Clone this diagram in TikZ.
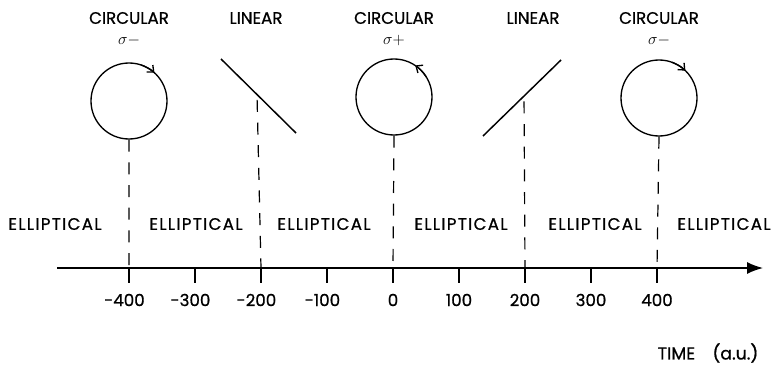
\documentclass[tikz,border=0pt]{standalone}
\usepackage{fontspec}
\setmainfont{Poppins}[FakeBold=0.8]
\usetikzlibrary{arrows.meta,positioning,calc}

\begin{document}
\begin{tikzpicture}[x=.75pt,y=.75pt,>=Latex,
  lbl/.style={font=\fontsize{12.5}{14}\selectfont},
  pol/.style={circle,draw,line width=1pt,minimum size=57pt,inner sep=0pt},
  guide/.style={line width=.9pt,dash pattern=on 9pt off 8pt},
  spin/.style={line width=1pt,-{Straight Barb[length=4pt,width=7pt]}}]
\useasboundingbox (0,0) rectangle (778,372);
% time axis
\coordinate (ax0) at (57,104);
\coordinate (ax1) at (763,104);
\draw[line width=1.1pt,-{Latex[length=12pt,width=9pt]}] (ax0) -- (ax1);
\foreach \v [count=\i] in {-400,-300,...,400}{
  \pgfmathtruncatemacro\a{abs(\v)}
  \coordinate (t\i) at (393+0.66*\v,104);
  \draw[line width=.9pt] (t\i) -- ++(0,-15);
  \node[lbl] (n\i) at ($(t\i)+(0,-32)$) {\ifnum\v<0 \llap{-}\fi\a};
}
\node[lbl,font=\fontsize{13}{15}\selectfont] (time) at (708,19) {TIME\quad(a.u.)};
% polarisation states
\node[pol] (cA) at (129,271) {};
\node[pol] (cB) at (394,275) {};
\node[pol] (cC) at (659,274) {};
\draw[spin] ($(cA)+(72:28.5pt)$) arc (72:48:28.5pt);
\draw[spin] ($(cB)+(32:28.5pt)$) arc (32:56:28.5pt);
\draw[spin] ($(cC)+(70:28.5pt)$) arc (70:46:28.5pt);
\coordinate (lA1) at (221,313);
\coordinate (lA2) at (296,239);
\coordinate (lB1) at (483,236);
\coordinate (lB2) at (561,312);
\draw[line width=1.1pt] (lA1) -- coordinate[pos=.48] (mA) (lA2);
\draw[line width=1.1pt] (lB1) -- coordinate[pos=.526] (mB) (lB2);
\node[lbl] (hA) at (129,354) {CIRCULAR};
\node[font=\fontsize{12}{14}\selectfont] (sA) at (129,331) {$\mathrm{\sigma}{-}$};
\node[lbl] (hB) at (256,354) {LINEAR};
\node[lbl] (hC) at (394,354) {CIRCULAR};
\node[font=\fontsize{12}{14}\selectfont] (sC) at (394,331) {$\mathrm{\sigma}{+}$};
\node[lbl] (hD) at (533,354) {LINEAR};
\node[lbl] (hE) at (659,354) {CIRCULAR};
\node[font=\fontsize{12}{14}\selectfont] (sE) at (659,331) {$\mathrm{\sigma}{-}$};
% dashed guides down to the axis
\draw[guide] (cA.south) -- (t1);
\draw[guide,shorten <=4pt] (mA) -- (t3);
\draw[guide] (cB.south) -- (t5);
\draw[guide,shorten <=4pt] (mB) -- (t7);
\draw[guide] (cC.south) -- (t9);
\foreach \x [count=\j] in {55,196,324,461,595,724}
  \node[lbl] (e\j) at (\x,148) {\addfontfeature{LetterSpace=8}ELLIPTICAL};
\end{tikzpicture}
\end{document}
